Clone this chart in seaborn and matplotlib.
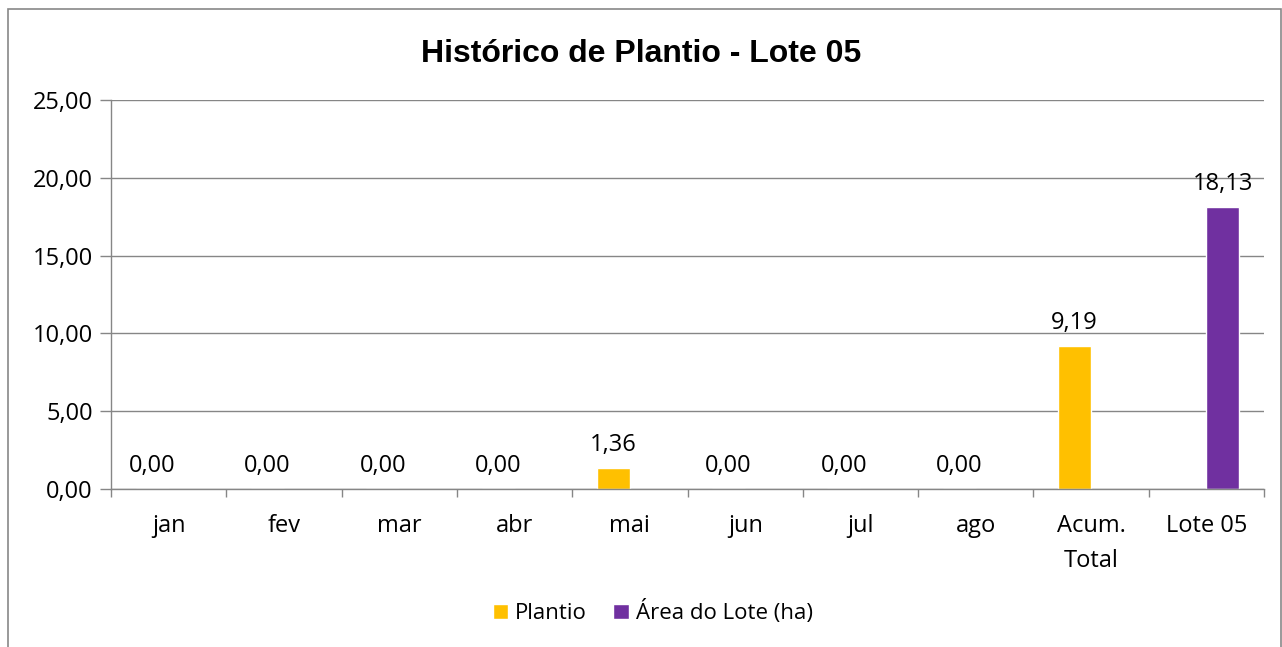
"""
Histórico de Plantio - Lote 05
Grouped bar chart rebuilt with seaborn
"""
import numpy as np
import pandas as pd
import seaborn as sns
import matplotlib.pyplot as plt
from matplotlib.patches import Rectangle

categories = ['jan', 'fev', 'mar', 'abr', 'mai', 'jun', 'jul', 'ago',
              'Acum.\nTotal', 'Lote 05']
plantio = [0.00, 0.00, 0.00, 0.00, 1.36, 0.00, 0.00, 0.00, 9.19, np.nan]
area_lote = [np.nan] * 9 + [18.13]
series = ['Plantio', 'Área do Lote (ha)']
colors = ['#FFC000', '#7030A0']
yticks = [0, 5, 10, 15, 20, 25]


def fmt_br(v):
    return f'{v:.2f}'.replace('.', ',')


sns.set_theme(style='white')
plt.rcParams['font.family'] = ['Open Sans', 'DejaVu Sans']
plt.rcParams['text.color'] = 'black'

df = pd.DataFrame({
    'Mes': categories * 2,
    'Valor': plantio + area_lote,
    'Serie': [series[0]] * len(categories) + [series[1]] * len(categories),
})

fig = plt.figure(figsize=(12.82, 6.47), dpi=100)
ax = fig.add_axes([0.0866, 0.2442, 0.8994, 0.6012])

sns.barplot(data=df, x='Mes', y='Valor', hue='Serie', order=categories,
            hue_order=series, palette=colors, width=0.573, dodge=True,
            saturation=1, errorbar=None, ax=ax)

fs = 17

# value labels
n = len(categories)
for ser_vals, cont in zip([plantio, area_lote], ax.containers):
    labels = ['' if np.isnan(v) else fmt_br(v) for v in ser_vals]
    if len(cont) != n:
        labels = [lb for lb in labels if lb != '']
    ax.bar_label(cont, labels=labels, padding=8, fontsize=fs, color='black')

ax.set_ylim(0, 25)
ax.set_xlim(-0.5, n - 0.5)
ax.set_yticks(yticks)
ax.set_yticklabels([fmt_br(v) for v in yticks], fontsize=fs)
ax.set_xticks(range(n))
ax.set_xticklabels(categories, fontsize=fs, va='top', linespacing=1.6)
ax.tick_params(axis='x', length=0, pad=18, labelcolor='black')
ax.tick_params(axis='y', length=8, width=1, color='#868686', pad=5,
               left=True, labelcolor='black')
ax.set_xticks(np.arange(-0.5, n, 1), minor=True)
ax.tick_params(axis='x', which='minor', length=6, width=1,
               color='#868686', bottom=True)
ax.grid(axis='y', color='#868686', linewidth=1)
ax.set_axisbelow(True)
ax.set_xlabel('')
ax.set_ylabel('')
for side in ['top', 'right']:
    ax.spines[side].set_visible(False)
for side in ['left', 'bottom']:
    ax.spines[side].set_color('#868686')
    ax.spines[side].set_linewidth(1)

fig.text(0.5, 0.917, 'Histórico de Plantio - Lote 05', ha='center',
         va='center', fontsize=23, fontweight='bold', color='black',
         family=['Liberation Sans', 'DejaVu Sans'])

handles, labs = ax.get_legend_handles_labels()
ax.legend(handles, labs, loc='center', bbox_to_anchor=(0.509, 0.054),
          bbox_transform=fig.transFigure, ncol=2, frameon=False,
          fontsize=16, handlelength=0.7, handleheight=0.7,
          handletextpad=0.3, columnspacing=1.2)

fig.patches.append(Rectangle((8 / 1282, -0.1), 1273 / 1282, 1.1 - 9 / 647,
                             transform=fig.transFigure, fill=False,
                             edgecolor='#878787', linewidth=1.2))

fig.savefig('out.png', dpi=100)
